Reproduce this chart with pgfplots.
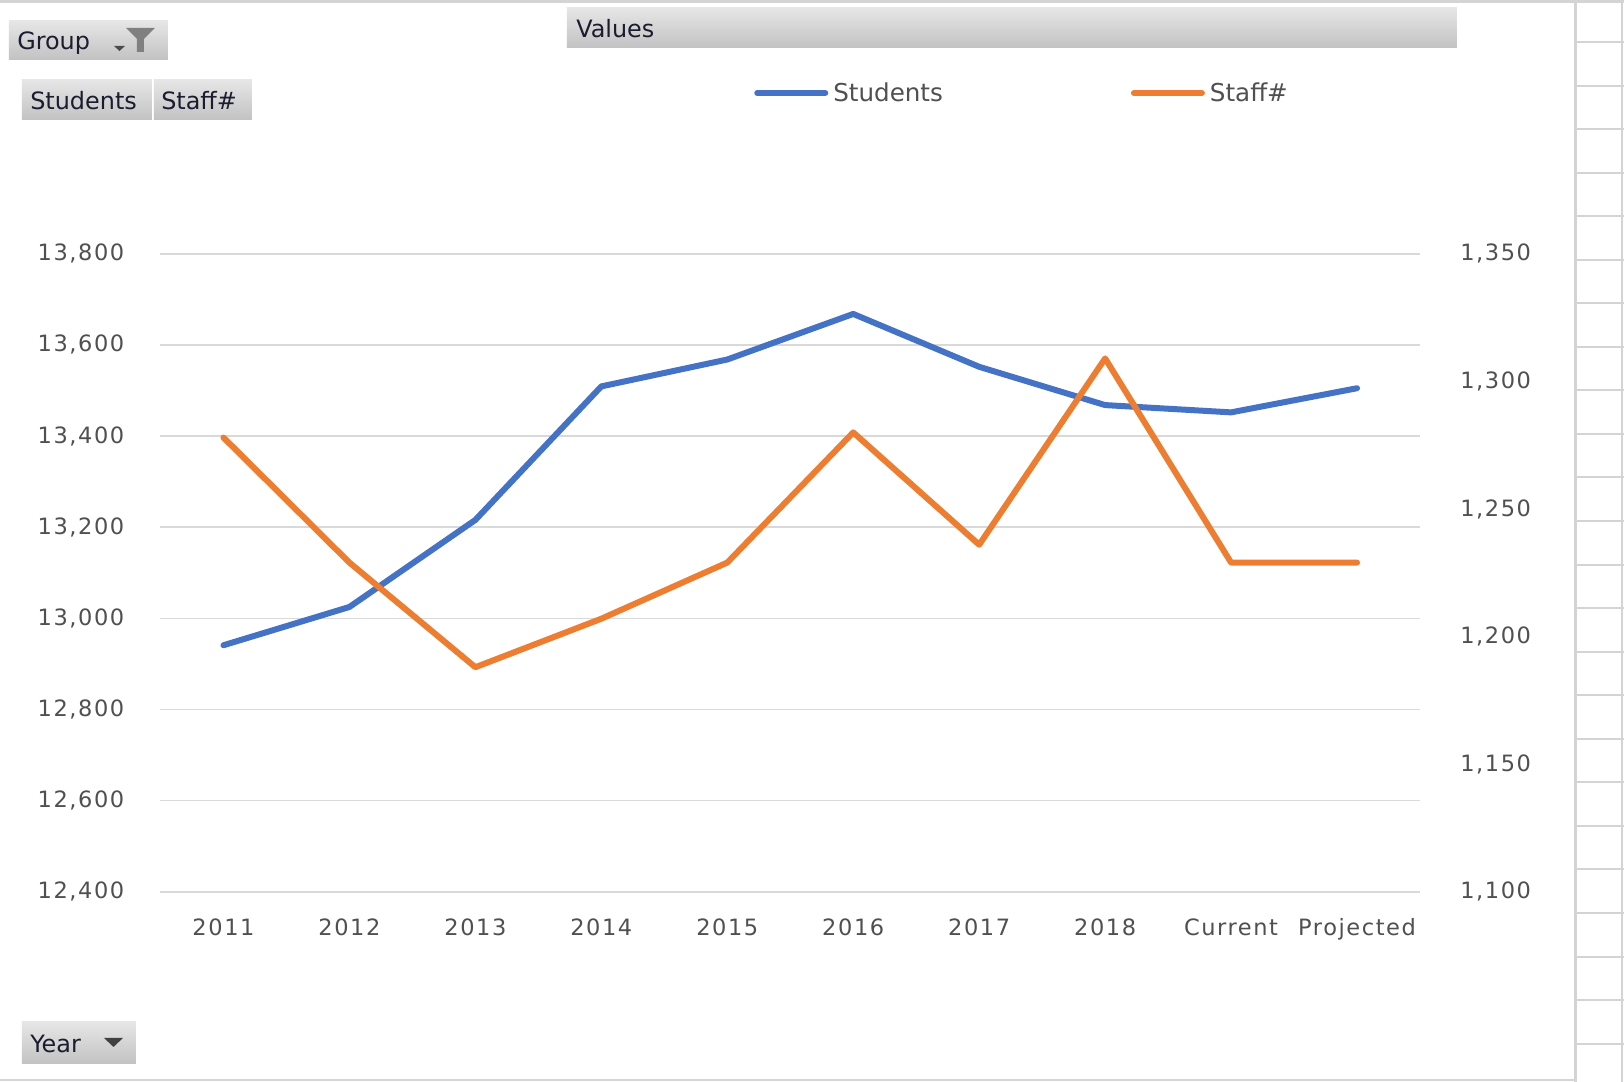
\documentclass[border=0pt]{standalone}
\usepackage{fontspec}
\usepackage{pgfplots}
\usepackage{pgfplotstable}
\pgfplotsset{compat=1.18}
\setmainfont{DejaVu Sans}
\newfontfamily\tickfont[LetterSpace=7]{DejaVu Sans}
\definecolor{sblue}{HTML}{4472C4}
\definecolor{sorange}{HTML}{ED7D31}
\definecolor{gridgray}{HTML}{D9D9D9}
\definecolor{tickgray}{HTML}{505050}
\definecolor{btntop}{HTML}{E6E6E6}
\definecolor{btnbot}{HTML}{C2C2C2}
\definecolor{btntext}{HTML}{1C1C30}
\definecolor{bordergray}{HTML}{D4D4D4}

\pgfplotstableread{
x students staff
0 12941 1278
1 13025 1229
2 13216 1188
3 13509 1207
4 13568 1229
5 13668 1280
6 13552 1236
7 13468 1309
8 13452 1229
9 13505 1229
}\datatable

\newcommand{\ticksize}{\tickfont\fontsize{16}{19}\selectfont}
\newcommand{\uisize}{\fontsize{17}{20}\selectfont}

\begin{document}
\begin{tikzpicture}
\path[use as bounding box, fill=white] (0,0) rectangle (406mm,270.5mm);
\begin{scope}[x=0.25mm, y=-0.25mm, shift={(0mm,270.5mm)}]
  % borders
  \draw[bordergray, line width=0.75mm] (0,2) -- (1624,2);
  \draw[bordergray, line width=0.6mm] (0,1080) -- (1576,1080);
  \draw[bordergray, line width=0.75mm] (1576,0) -- (1576,1082);
  \draw[bordergray, line width=0.5mm] (1622,0) -- (1622,1082);
  \foreach \k in {0,...,23} {
    \draw[bordergray, line width=0.5mm] (1576,{42+43.55*\k}) -- (1624,{42+43.55*\k});
  }
  % Values bar
  \shade[top color=btntop, bottom color=btnbot] (567,8) rectangle (1457,48);
  \node[anchor=west, inner sep=0pt, text=btntext, font=\uisize] at (576,29) {Values};
  % Group button
  \shade[top color=btntop, bottom color=btnbot] (9,21) rectangle (168,60);
  \node[anchor=west, inner sep=0pt, text=btntext, font=\uisize] at (17,43) {Group};
  \fill[black!70] (114,46) -- (125,46) -- (119.5,51) -- cycle;
  \fill[black!50] (126,28) -- (155,28) -- (144,39) -- (144,52) -- (137,52) -- (137,39) -- cycle;
  % Students / Staff# buttons
  \shade[top color=btntop, bottom color=btnbot] (22,80) rectangle (152,120);
  \shade[top color=btntop, bottom color=btnbot] (154,80) rectangle (252,120);
  \node[anchor=west, inner sep=0pt, text=btntext, font=\uisize] at (30,101) {Students};
  \node[anchor=west, inner sep=0pt, text=btntext, font=\uisize] at (161,101) {Staff\#};
  % Year button
  \shade[top color=btntop, bottom color=btnbot] (22,1022) rectangle (136,1064);
  \node[anchor=west, inner sep=0pt, text=btntext, font=\uisize] at (30,1044) {Year};
  \fill[black!75] (104,1038) -- (123,1038) -- (113.5,1047) -- cycle;
\end{scope}

\begin{axis}[
  at={(40.125mm,47.55mm)}, anchor=south west,
  scale only axis, width=314.875mm, height=159.5mm,
  xmin=-0.5, xmax=9.5, ymin=12400, ymax=13800,
  xtick={0,1,2,3,4,5,6,7,8,9},
  xticklabels={2011,2012,2013,2014,2015,2016,2017,2018,Current,Projected},
  ytick={12400,12600,12800,13000,13200,13400,13600,13800},
  ymajorgrids, grid style={draw=gridgray, line width=0.4mm},
  axis line style={draw=none}, major tick length=0pt,
  scaled y ticks=false,
  /pgf/number format/1000 sep={,},
  /pgf/number format/assume math mode=true,
  tick label style={font=\ticksize, text=tickgray, inner sep=0pt},
  xticklabel style={anchor=base, yshift=-11mm},
  yticklabel style={anchor=east, xshift=-9mm},
]
\addplot[sblue, line width=1.5mm, line join=round, line cap=round] table[x=x, y=students]{\datatable};
\end{axis}

\begin{axis}[
  at={(40.125mm,47.55mm)}, anchor=south west,
  scale only axis, width=314.875mm, height=159.5mm,
  xmin=-0.5, xmax=9.5, ymin=1100, ymax=1350,
  xtick=\empty,
  ytick={1100,1150,1200,1250,1300,1350},
  yticklabel pos=right, ytick pos=right,
  axis line style={draw=none}, major tick length=0pt,
  scaled y ticks=false,
  /pgf/number format/1000 sep={,},
  /pgf/number format/assume math mode=true,
  tick label style={font=\ticksize, text=tickgray, inner sep=0pt},
  yticklabel style={anchor=west, xshift=10mm},
  legend columns=2,
  legend image code/.code={\draw[#1, line cap=round] (0mm,0mm) -- (17mm,0mm);},
  legend style={at={(0.4712,1.2520)}, anchor=west, draw=none, fill=none, inner sep=0pt,
    font=\fontsize{17.5}{20}\selectfont, text=tickgray, nodes={inner sep=0pt},
    /tikz/every odd column/.append style={column sep=1.25mm},
    /tikz/every even column/.append style={column sep=47mm}},
]
\addlegendimage{sblue, line width=1.5mm}
\addlegendentry{Students}
\addplot[sorange, line width=1.5mm, line join=round, line cap=round] table[x=x, y=staff]{\datatable};
\addlegendentry{Staff\#}
\end{axis}
\end{tikzpicture}
\end{document}
